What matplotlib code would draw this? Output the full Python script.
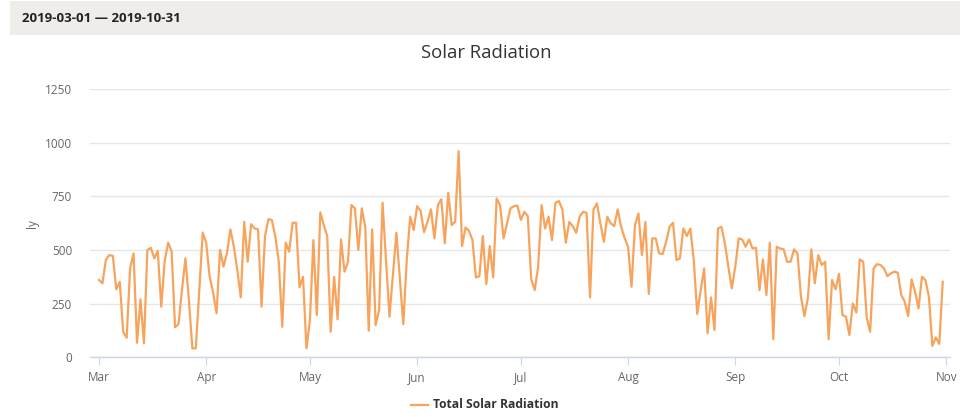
import matplotlib
matplotlib.use("Agg")
import matplotlib.pyplot as plt
import matplotlib.dates as mdates
from matplotlib.patches import Rectangle
from matplotlib.lines import Line2D
import numpy as np
import pandas as pd

start_date = "2019-03-01"
end_date = "2019-10-31"
series_name = "Total Solar Radiation"
title = "Solar Radiation"
y_label = "ly"
y_ticks = [0, 250, 500, 750, 1000, 1250]

values_mar = [360, 345, 455, 476, 473, 317, 352, 119, 91, 414, 484, 68, 270, 65, 500, 510,
              461, 496, 236, 448, 534, 494, 140, 155, 315, 461, 265, 42, 42, 310, 581]
values_apr = [533, 375, 302, 205, 500, 422, 484, 596, 515, 406, 279, 631, 445, 620, 600, 596,
              236, 565, 644, 639, 562, 445, 142, 534, 492, 627, 627, 326, 375, 42]
values_may = [174, 546, 197, 675, 616, 565, 119, 375, 177, 549, 399, 445, 709, 694, 500, 694,
              608, 124, 596, 150, 220, 720, 453, 189, 385, 580, 370, 154, 453, 655, 593]
values_jun = [704, 682, 583, 631, 689, 554, 709, 736, 531, 766, 616, 631, 960, 518, 605, 589,
              546, 372, 378, 565, 341, 518, 372, 740, 709, 554, 624, 694, 704, 707]
values_jul = [640, 678, 658, 363, 313, 422, 709, 600, 655, 546, 720, 728, 689, 534, 631, 611,
              580, 655, 678, 673, 279, 689, 717, 624, 538, 655, 624, 611, 689, 608, 556]
values_aug = [515, 329, 616, 670, 476, 631, 295, 554, 554, 484, 481, 538, 608, 627, 453, 461,
              600, 565, 600, 453, 202, 313, 414, 112, 279, 127, 600, 608, 531, 422, 321]
values_sep = [422, 554, 549, 515, 549, 507, 510, 313, 456, 290, 534, 84, 515, 507, 503, 445,
              445, 503, 484, 282, 192, 275, 503, 345, 476, 430, 445, 84, 360, 317]
values_oct = [389, 197, 189, 104, 251, 208, 456, 445, 186, 119, 414, 434, 430, 414, 378, 391,
              399, 394, 290, 259, 192, 363, 305, 228, 375, 360, 282, 53, 93, 62, 352]

values = (values_mar + values_apr + values_may + values_jun + values_jul
          + values_aug + values_sep + values_oct)
dates = pd.date_range(start_date, end_date, freq="D")
assert len(values) == len(dates)

W, H = 966, 417
fig = plt.figure(figsize=(W / 100, H / 100), dpi=100)
plt.rcParams['font.family'] = ['Open Sans', 'DejaVu Sans']

# header band
fig.patches.append(Rectangle((10 / W, 1 - 35 / H), 950 / W, 34 / H, transform=fig.transFigure,
                             facecolor="#eeedea", edgecolor="none", zorder=0))
fig.text(22 / W, 1 - 18 / H, f"{start_date} \u2014 {end_date}", fontsize=9.5, fontweight="bold",
         color="#222222", va="center", ha="left")

ax = fig.add_axes([90 / W, 1 - 357.3 / H, 860 / W, (357.3 - 89) / H])
ax.plot(dates, values, color="#f7a35c", lw=1.6, solid_joinstyle="round", zorder=3)

d0 = pd.Timestamp(start_date)
ax.set_xlim(d0 - pd.Timedelta(days=2.6), d0 + pd.Timedelta(days=246.1))
ax.set_ylim(0, 1250)
ax.set_yticks(y_ticks)
ax.set_yticklabels([str(t) for t in y_ticks])
ax.xaxis.set_major_locator(mdates.MonthLocator())
ax.xaxis.set_major_formatter(mdates.DateFormatter("%b"))

ax.grid(axis="y", color="#e6e6e6", lw=1)
ax.set_axisbelow(True)
for s in ["top", "right", "left"]:
    ax.spines[s].set_visible(False)
ax.spines["bottom"].set_color("#ccd6eb")
ax.spines["bottom"].set_linewidth(1)
ax.tick_params(axis="y", length=0, pad=13, labelsize=8.5, labelcolor="#666666")
ax.tick_params(axis="x", length=6, color="#ccd6eb", pad=4, labelsize=8.5, labelcolor="#666666")
ax.set_ylabel(y_label, color="#666666", fontsize=8.5, labelpad=4)

fig.text(486 / W, 1 - 53 / H, title, fontsize=13.3, color="#333333", ha="center", va="center")

# legend
fig.add_artist(Line2D([411 / W, 428 / W], [1 - 405 / H, 1 - 405 / H], transform=fig.transFigure,
                      color="#f7a35c", lw=1.6))
fig.text(433 / W, 1 - 405 / H, series_name, fontsize=8.7, fontweight="bold", color="#333333",
         ha="left", va="center")

fig.savefig("out.png", dpi=100)
